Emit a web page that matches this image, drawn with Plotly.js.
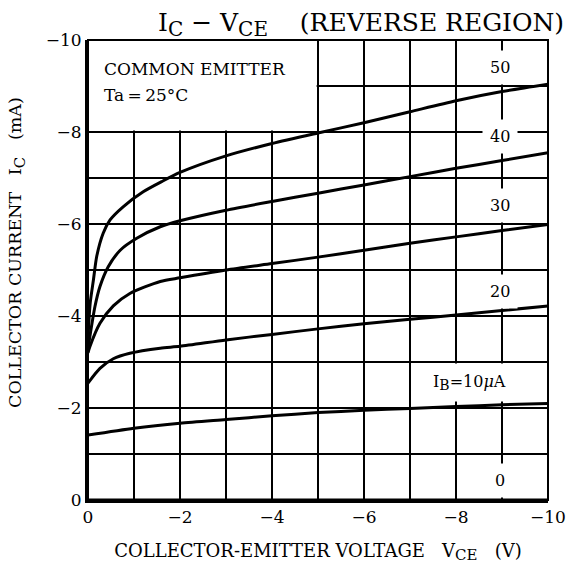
<!DOCTYPE html>
<html>
<head>
<meta charset="utf-8">
<script src="https://cdn.plot.ly/plotly-3.0.1.min.js"></script>
<style>html,body{margin:0;padding:0;background:#fff;}#chart{width:574px;height:569px;}</style>
</head>
<body>
<div id="chart"></div>
<script>
// ---- data ----
const curveLabels = ["50", "40", "30", "20", "I<sub><span style='font-size:14px'>B</span></sub>=10<i>μ</i>A", "0"];
const x50 = [0, -0.02, -0.05, -0.12, -0.19, -0.33, -0.48, -0.77, -1.2, -1.6, -2, -3, -4, -5, -6, -7, -8, -9, -10];
const y50 = [-3.5, -3.9, -4.3, -4.8, -5.3, -5.8, -6.09, -6.38, -6.7, -6.92, -7.12, -7.48, -7.75, -7.98, -8.2, -8.44, -8.68, -8.88, -9.04];
const x40 = [0, -0.04, -0.15, -0.26, -0.44, -0.7, -1.06, -1.57, -2, -3, -4, -5, -6, -7, -8, -9, -10];
const y40 = [-3.3, -3.55, -4.2, -4.64, -5.07, -5.43, -5.69, -5.94, -6.07, -6.3, -6.49, -6.67, -6.85, -7.03, -7.21, -7.38, -7.55];
const x30 = [0, -0.04, -0.26, -0.55, -0.91, -1.57, -2, -3, -4, -5, -6, -7, -8, -9, -10];
const y30 = [-3.2, -3.33, -3.84, -4.22, -4.49, -4.75, -4.83, -5.0, -5.14, -5.28, -5.43, -5.58, -5.72, -5.86, -5.99];
const x20 = [0, -0.26, -0.55, -0.91, -1.57, -2, -3, -4, -5, -6, -7, -8, -9, -10];
const y20 = [-2.54, -2.86, -3.07, -3.19, -3.3, -3.34, -3.48, -3.6, -3.72, -3.83, -3.93, -4.02, -4.12, -4.22];
const x10 = [0, -1, -2, -3, -4, -5, -6, -7, -8, -9, -10];
const y10 = [-1.41, -1.56, -1.67, -1.75, -1.83, -1.9, -1.95, -1.99, -2.03, -2.07, -2.1];
const x0 = [0, -10];
const y0 = [0, 0];
// label anchor positions (data units)
const labelX = [-8.96, -8.96, -8.96, -8.96, -8.3, -8.96];
const labelY = [-9.41, -7.9, -6.41, -4.53, -2.55, -0.43];

const xTickVals = [0, -2, -4, -6, -8, -10];
const xTickText = ["0", "−2", "−4", "−6", "−8", "−10"];
const xMinorVals = [-1, -3, -5, -7, -9];
const yTickVals = [0, -2, -4, -6, -8, -10];
const yTickText = ["0", "−2", "−4", "−6", "−8", "−10"];
const yMinorVals = [-1, -3, -5, -7, -9];

const FONT = "DejaVu Serif, Liberation Serif, serif";

const series = [[x50, y50], [x40, y40], [x30, y30], [x20, y20], [x10, y10], [x0, y0]];
const traces = series.map((s, i) => ({
  x: s[0], y: s[1], type: "scatter", mode: "lines",
  line: {color: "#000", width: 3, shape: "spline", smoothing: 0.7},
  hoverinfo: "skip", showlegend: false, name: curveLabels[i]
}));

const annotations = curveLabels.map((t, i) => ({
  x: labelX[i], y: labelY[i], xref: "x", yref: "y", text: t, showarrow: false,
  font: {family: FONT, size: 16, color: "#000"},
  bgcolor: "#fff", borderpad: i === 4 ? 8 : 7, xanchor: "center", yanchor: "middle"
}));
annotations.push({
  x: -0.3, y: -9.37, xref: "x", yref: "y", text: "COMMON EMITTER", showarrow: false,
  xanchor: "left", yanchor: "middle", font: {family: FONT, size: 17, color: "#000"}
});
annotations.push({
  x: -0.3, y: -8.8, xref: "x", yref: "y", text: "Ta\u2009=\u200925°C", showarrow: false,
  xanchor: "left", yanchor: "middle", font: {family: FONT, size: 17, color: "#000"}
});
annotations.push({
  x: (17 - 88) / 460, y: (500 - 253) / 460, xref: "paper", yref: "paper",
  text: "COLLECTOR CURRENT\u00a0\u00a0\u00a0I<sub><span style='font-size:15px'>C</span></sub>\u00a0\u00a0\u00a0(mA)",
  textangle: -90, showarrow: false, xanchor: "center", yanchor: "middle",
  font: {family: FONT, size: 17.5, color: "#000"}
});

const layout = {
  width: 574, height: 569,
  margin: {l: 88, r: 26, t: 40, b: 69},
  paper_bgcolor: "#fff", plot_bgcolor: "#fff",
  font: {family: FONT, color: "#000", size: 16},
  showlegend: false,
  title: {
    text: "I<sub><span style='font-size:20px'>C</span></sub> − V<sub><span style='font-size:20px'>CE</span></sub>\u00a0\u00a0\u00a0\u00a0(REVERSE REGION)",
    font: {family: FONT, size: 25, color: "#000"},
    x: 158 / 574, xanchor: "left", xref: "container",
    y: 1 - 22 / 569, yanchor: "middle", yref: "container"
  },
  xaxis: {
    range: [0, -10], autorange: false, tickmode: "array", tickvals: xTickVals, ticktext: xTickText,
    showgrid: true, gridcolor: "#000", gridwidth: 1.2, zeroline: false,
    minor: {tickmode: "array", tickvals: xMinorVals, showgrid: true, gridcolor: "#000", gridwidth: 1.2, ticks: ""},
    showline: true, linecolor: "#000", linewidth: 3, ticks: "",
    tickfont: {family: FONT, size: 17, color: "#000"},
    title: {text: "COLLECTOR-EMITTER VOLTAGE\u00a0\u00a0\u00a0V<sub><span style='font-size:15px'>CE</span></sub>\u00a0\u00a0\u00a0(V)",
            font: {family: FONT, size: 18, color: "#000"}, standoff: 18}
  },
  yaxis: {
    range: [0, -10], autorange: false, tickmode: "array", tickvals: yTickVals, ticktext: yTickText,
    showgrid: true, gridcolor: "#000", gridwidth: 1.2, zeroline: false,
    minor: {tickmode: "array", tickvals: yMinorVals, showgrid: true, gridcolor: "#000", gridwidth: 1.2, ticks: ""},
    showline: true, linecolor: "#000", linewidth: 3, ticks: "",
    tickfont: {family: FONT, size: 17, color: "#000"}
  },
  shapes: [
    {type: "rect", xref: "x", yref: "y", x0: 0, x1: -4.97, y0: -8.03, y1: -10,
     fillcolor: "#fff", line: {width: 0}, layer: "between"},
    {type: "rect", xref: "paper", yref: "paper", x0: 0, x1: 1, y0: 0, y1: 1,
     line: {color: "#000", width: 2}, fillcolor: "rgba(0,0,0,0)", layer: "above"}
  ],
  annotations: annotations
};

Plotly.newPlot("chart", traces, layout, {staticPlot: true, displayModeBar: false});
</script>
</body>
</html>
